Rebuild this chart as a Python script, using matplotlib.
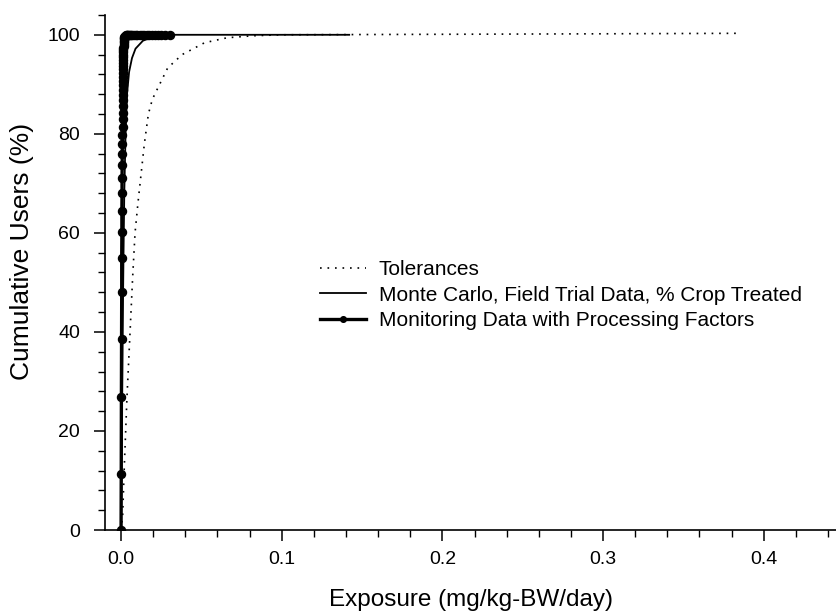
import matplotlib.pyplot as plt
from matplotlib.ticker import MultipleLocator, FormatStrFormatter

plt.rcParams["font.family"] = ["Liberation Sans", "DejaVu Sans"]

# Tolerances (dotted)
tol_x = [0.0000, 0.0010, 0.0020, 0.0037, 0.0056, 0.0072, 0.0087, 0.0105, 0.0125,
         0.0145, 0.0170, 0.0195, 0.0225, 0.0290, 0.0380, 0.0520, 0.0660, 0.0820,
         0.1000, 0.2000, 0.3000, 0.3850]
tol_y = [0.0, 3.0, 12.7, 27.0, 40.0, 51.0, 60.0, 66.0, 72.0,
         78.0, 84.0, 87.0, 89.0, 93.3, 96.0, 98.4, 99.4, 99.8,
         100.0, 100.1, 100.2, 100.3]

# Monte Carlo, field trial data, % crop treated (thin solid)
mc_x = [0.0000, 0.0005, 0.0010, 0.0015, 0.0020, 0.0028, 0.0037, 0.0050, 0.0068,
        0.0090, 0.0136, 0.0200, 0.0260, 0.1420]
mc_y = [0.0, 20.0, 40.0, 55.0, 68.0, 80.0, 88.0, 92.5, 95.3,
        97.2, 98.8, 99.6, 100.0, 100.0]

# Monitoring data with processing factors (thick line + dots)
mon_x = [0.0000, 0.0001, 0.0002, 0.0003, 0.0004, 0.0004, 0.0005, 0.0005, 0.0006, 0.0006,
         0.0007, 0.0007, 0.0008, 0.0008, 0.0009, 0.0009, 0.0010, 0.0010, 0.0010, 0.0011,
         0.0011, 0.0011, 0.0012, 0.0012, 0.0012, 0.0013, 0.0013, 0.0013, 0.0014, 0.0014,
         0.0014, 0.0015, 0.0015, 0.0015, 0.0016, 0.0016, 0.0017, 0.0017, 0.0018, 0.0019,
         0.0020, 0.0022, 0.0025, 0.0028, 0.0032, 0.0036, 0.0040, 0.0045, 0.0050, 0.0055,
         0.0060, 0.0070, 0.0080, 0.0090, 0.0100, 0.0115, 0.0130, 0.0145, 0.0160, 0.0175,
         0.0190, 0.0210, 0.0230, 0.0250, 0.0275, 0.0305]
mon_y = [0.0, 11.4, 26.9, 38.6, 48.0, 54.9, 60.2, 64.4, 68.1, 71.1,
         73.7, 76.0, 78.0, 79.8, 81.4, 82.9, 84.3, 85.6, 86.8, 87.9,
         88.9, 89.8, 90.7, 91.5, 92.3, 93.0, 93.7, 94.3, 94.9, 95.5,
         96.0, 96.5, 97.0, 97.4, 97.8, 98.2, 98.5, 98.8, 99.1, 99.3,
         99.5, 99.65, 99.75, 99.85, 99.9, 99.93, 99.95, 99.97, 99.98, 99.99,
         100, 100, 100, 100, 100, 100, 100, 100, 100, 100,
         100, 100, 100, 100, 100, 100]

fig = plt.figure(figsize=(8.36, 6.14), dpi=100)
ax = fig.add_axes([0.1256, 0.1368, 0.8744, 0.8388])

ax.plot(tol_x, tol_y, color='black', linestyle=(0, (1, 3.5)), linewidth=1.2,
        label='Tolerances')
ax.plot(mc_x, mc_y, color='black', linewidth=1.3,
        label='Monte Carlo, Field Trial Data, % Crop Treated')
ax.plot(mon_x, mon_y, color='black', linewidth=2.4, marker='o', markersize=5.8,
        label='Monitoring Data with Processing Factors')

ax.set_xlim(-0.01, 0.445)
ax.set_ylim(0, 104)

ax.xaxis.set_major_locator(MultipleLocator(0.1))
ax.xaxis.set_minor_locator(MultipleLocator(0.02))
ax.xaxis.set_major_formatter(FormatStrFormatter('%.1f'))
ax.yaxis.set_major_locator(MultipleLocator(20))
ax.yaxis.set_minor_locator(MultipleLocator(4))

for side in ['top', 'right']:
    ax.spines[side].set_visible(False)
for side in ['left', 'bottom']:
    ax.spines[side].set_linewidth(1.2)

ax.tick_params(which='major', direction='out', length=8, width=1.1, labelsize=14)
ax.tick_params(axis='x', which='major', pad=7)
ax.tick_params(axis='y', which='major', pad=10)
ax.tick_params(which='minor', direction='out', length=5, width=1.0)

ax.set_xlabel('Exposure (mg/kg-BW/day)', fontsize=17.5, labelpad=15)
ax.set_ylabel('Cumulative Users (%)', fontsize=19)
ax.yaxis.set_label_coords(-0.097, 0.54)

ax.legend(loc='upper left', bbox_to_anchor=(0.383, 0.576), bbox_transform=fig.transFigure,
          frameon=False, fontsize=15, handlelength=2.2, handletextpad=0.6,
          labelspacing=0.3, borderpad=0, borderaxespad=0, markerscale=0.7)

plt.savefig('out.png', dpi=100)
